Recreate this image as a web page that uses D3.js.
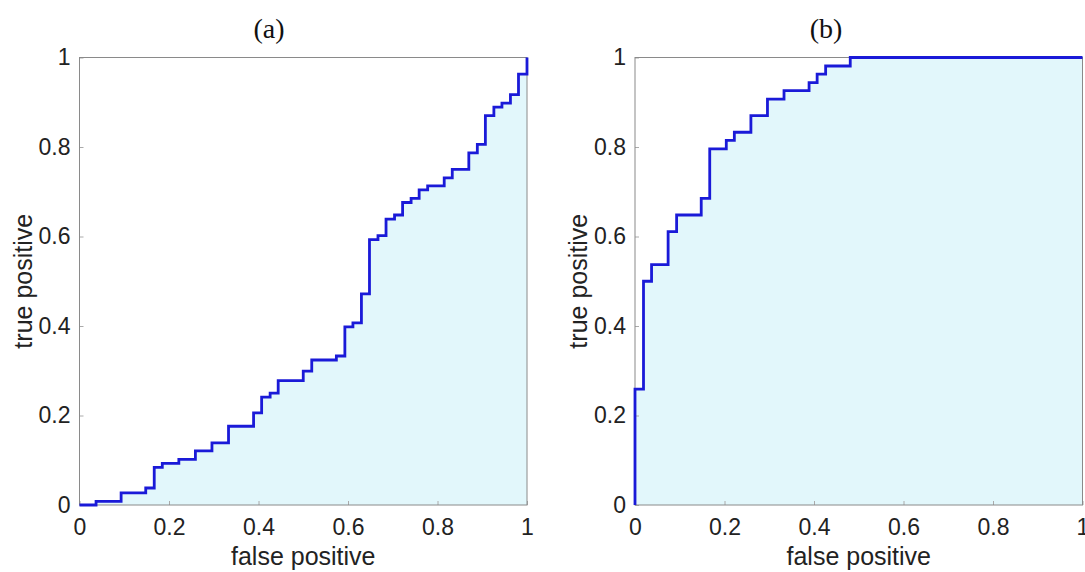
<!DOCTYPE html>
<html>
<head>
<meta charset="utf-8">
<script src="https://cdn.jsdelivr.net/npm/d3@7"></script>
<style>
  html, body { margin: 0; padding: 0; background: #fff; }
  svg { display: block; }
</style>
</head>
<body>
<svg id="chart" width="1085" height="572"></svg>
<script>
// ROC curve (a): staircase corners, false positive rate / true positive rate
const fprA = [0, 0.037, 0.093, 0.148, 0.167, 0.185, 0.222, 0.259, 0.296, 0.333,
  0.389, 0.407, 0.426, 0.444, 0.500, 0.519, 0.574, 0.593, 0.611, 0.630,
  0.648, 0.667, 0.685, 0.704, 0.722, 0.741, 0.759, 0.778, 0.815, 0.833,
  0.870, 0.889, 0.907, 0.926, 0.944, 0.963, 0.981, 1.0];
const tprA = [0, 0.008, 0.027, 0.038, 0.084, 0.093, 0.102, 0.121, 0.139, 0.176,
  0.206, 0.241, 0.250, 0.278, 0.299, 0.324, 0.333, 0.398, 0.407, 0.472,
  0.593, 0.602, 0.639, 0.648, 0.676, 0.685, 0.704, 0.713, 0.731, 0.750,
  0.787, 0.806, 0.870, 0.889, 0.898, 0.917, 0.963, 1.0];

// ROC curve (b)
const fprB = [0, 0, 0.019, 0.037, 0.074, 0.093, 0.148, 0.167, 0.204, 0.222,
  0.259, 0.296, 0.333, 0.389, 0.407, 0.426, 0.481, 1.0];
const tprB = [0, 0.259, 0.500, 0.537, 0.611, 0.648, 0.685, 0.796, 0.815, 0.833,
  0.870, 0.907, 0.926, 0.944, 0.963, 0.981, 1.0, 1.0];

const tickValues = [0, 0.2, 0.4, 0.6, 0.8, 1];
const tickLabels = ["0", "0.2", "0.4", "0.6", "0.8", "1"];
const titles = ["(a)", "(b)"];
const xLabel = "false positive";
const yLabel = "true positive";

const panels = [
  { title: titles[0], fpr: fprA, tpr: tprA, left: 79.5, titleX: 269 },
  { title: titles[1], fpr: fprB, tpr: tprB, left: 635, titleX: 826 }
];

const svg = d3.select("#chart");
const plotSize = 447.5, plotTop = 57.5;
const sansFont = "'Liberation Sans', Arial, Helvetica, sans-serif";

panels.forEach(p => {
  const x = d3.scaleLinear().domain([0, 1]).range([p.left, p.left + plotSize]);
  const y = d3.scaleLinear().domain([0, 1]).range([plotTop + plotSize, plotTop]);
  const pts = p.fpr.map((v, i) => [v, p.tpr[i]]);
  const g = svg.append("g");

  // shaded area under the curve
  const area = d3.area()
    .curve(d3.curveStepAfter)
    .x(d => x(d[0])).y0(y(0)).y1(d => y(d[1]));
  g.append("path").datum(pts)
    .attr("d", area)
    .attr("fill", "#e2f7fb");

  // axes with inward ticks, framed box
  const fmt = (d) => tickLabels[tickValues.indexOf(d)];
  const xAxis = d3.axisBottom(x).tickValues(tickValues).tickFormat(fmt)
    .tickSizeInner(-4).tickSizeOuter(0).tickPadding(14);
  const yAxis = d3.axisLeft(y).tickValues(tickValues).tickFormat(fmt)
    .tickSizeInner(-4).tickSizeOuter(0).tickPadding(9);

  const gx = g.append("g").attr("transform", `translate(0,${y(0)})`).call(xAxis);
  const gy = g.append("g").attr("transform", `translate(${x(0)},0)`).call(yAxis);
  [gx, gy].forEach(a => {
    a.select(".domain").remove();
    a.selectAll(".tick line").attr("stroke", "#aaa");
    a.selectAll(".tick text").attr("fill", "#222")
      .style("font-size", "23px").style("font-family", sansFont);
  });

  g.append("rect")
    .attr("x", x(0)).attr("y", y(1))
    .attr("width", x(1) - x(0)).attr("height", y(0) - y(1))
    .attr("fill", "none").attr("stroke", "#8a8a8a").attr("stroke-width", 1);

  // ROC staircase
  const line = d3.line().curve(d3.curveStepAfter)
    .x(d => x(d[0])).y(d => y(d[1]));
  g.append("path").datum(pts)
    .attr("d", line)
    .attr("fill", "none")
    .attr("stroke", "#1a1ad8")
    .attr("stroke-width", 2.8)
    .attr("stroke-linejoin", "miter");

  // labels
  g.append("text")
    .attr("x", (x(0) + x(1)) / 2).attr("y", 565)
    .attr("text-anchor", "middle")
    .style("font-family", sansFont).style("font-size", "25px").attr("fill", "#222")
    .text(xLabel);
  g.append("text")
    .attr("transform", `translate(${x(0) - 48},${(y(0) + y(1)) / 2}) rotate(-90)`)
    .attr("text-anchor", "middle")
    .style("font-family", sansFont).style("font-size", "25px").attr("fill", "#222")
    .text(yLabel);
  g.append("text")
    .attr("x", p.titleX).attr("y", 38)
    .attr("text-anchor", "middle")
    .style("font-family", "'Liberation Serif', 'DejaVu Serif', serif")
    .style("font-size", "28px").attr("fill", "#111")
    .text(p.title);
});
</script>
</body>
</html>
